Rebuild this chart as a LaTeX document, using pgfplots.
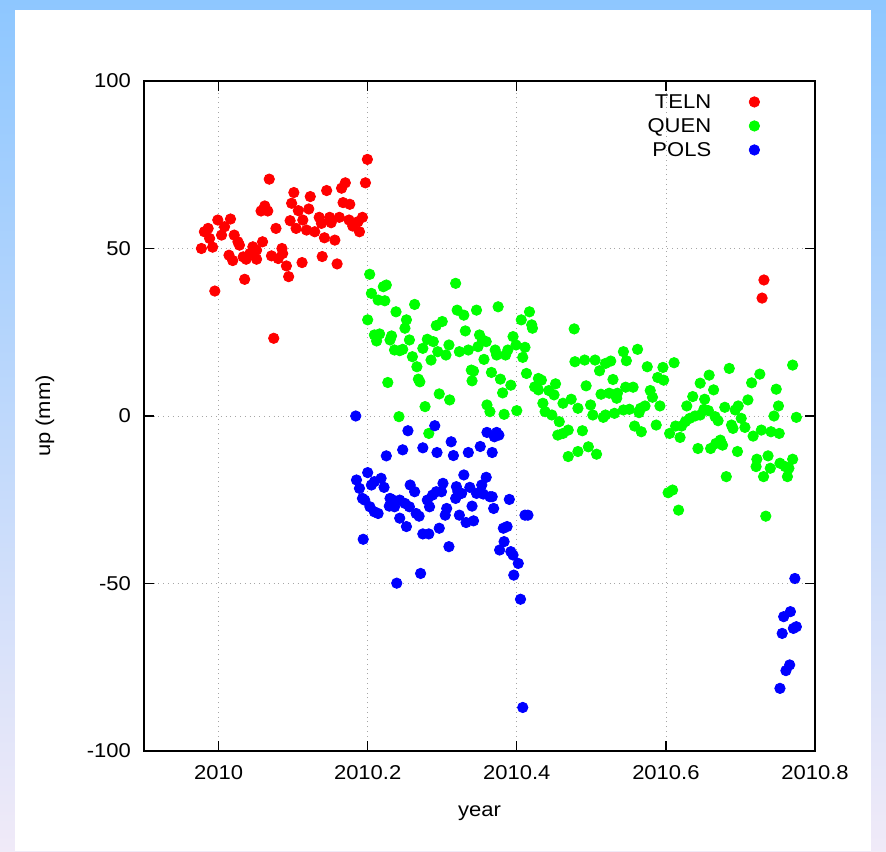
\documentclass[border=0pt]{standalone}
\usepackage{pgfplots}
\pgfplotsset{compat=1.18}
\usepackage{fontspec}
\setmainfont{Liberation Sans}[FakeStretch=1.1]
\definecolor{bgtop}{RGB}{142,199,255}
\definecolor{bgbot}{RGB}{240,234,248}
\begin{document}
\begin{tikzpicture}
\path[use as bounding box] (0,0) rectangle (443pt,425.5pt);
\shade[top color=bgtop, bottom color=bgbot] (0,0) rectangle (443pt,425.5pt);
\fill[white] (7.5pt,0) rectangle (435.5pt,420.5pt);
\begin{axis}[
  at={(72pt,50pt)}, anchor=south west,
  scale only axis, width=335.5pt, height=335pt,
  xmin=2009.9, xmax=2010.8, ymin=-100, ymax=100,
  xtick={2010,2010.2,2010.4,2010.6,2010.8},
  xticklabels={2010,2010.2,2010.4,2010.6,2010.8},
  ytick={-100,-50,0,50,100},
  yticklabels={-100,-50,0,50,100},
  tick align=inside, major tick length=5pt,
  tick style={black, line width=0.6pt},
  axis line style={black, line width=0.6pt},
  grid=major, major grid style={gray!70, dotted, line width=0.4pt},
  ticklabel style={font=\fontsize{10}{12}\selectfont},
  xticklabel style={yshift=-3.5pt},
  yticklabel style={xshift=-3pt},
  xlabel={year}, ylabel={up (mm)},
  label style={font=\fontsize{10}{12}\selectfont},
  xlabel style={at={(axis description cs:0.5,-0.093)}, anchor=center},
  ylabel style={at={(axis description cs:-0.1475,0.5)}, anchor=center},
  legend plot pos=right, legend cell align=right,
  legend image code/.code={\draw[#1] plot coordinates {(2.6pt,0pt)};},
  legend style={at={(rel axis cs:0.918,0.985)}, anchor=north east,
    draw=none, fill=none, inner sep=0pt, row sep=1.5pt, column sep=18pt,
    font=\fontsize{10}{12}\selectfont,
    nodes={text height=7.5pt, text depth=1pt, inner sep=1pt}},
  every axis plot/.append style={only marks, mark=*, mark size=2.6pt},
]
\addplot[color=red, mark options={fill=red, draw=red}] table {
2010.1996 76.6
2010.197 69.6
2010.068 70.7
2010.170 69.6
2010.165 68.0
2010.145 67.3
2010.101 66.7
2010.123 65.5
2010.167 63.7
2010.176 63.2
2010.098 63.5
2010.062 62.7
2010.057 61.2
2010.066 61.2
2010.121 61.8
2010.107 61.3
2009.999 58.5
2010.016 58.8
2010.096 58.3
2010.113 58.5
2010.135 59.3
2010.149 59.3
2010.162 59.3
2010.175 58.5
2010.193 59.3
2010.187 58.0
2009.986 56.0
2009.981 55.0
2010.008 56.5
2010.004 54.0
2009.988 53.0
2010.021 54.0
2010.026 52.0
2010.028 51.0
2010.077 56.0
2010.104 56.0
2010.118 55.5
2010.129 55.0
2010.138 57.5
2010.151 57.7
2010.180 56.7
2010.189 55.0
2010.142 53.2
2010.156 52.5
2009.977 50.0
2009.992 50.4
2010.059 52.0
2010.046 50.5
2010.042 48.5
2010.051 49.5
2010.085 50.0
2010.086 48.5
2010.071 47.8
2010.080 47.0
2010.014 48.0
2010.019 46.4
2010.033 47.5
2010.037 46.8
2010.051 46.8
2010.091 44.8
2010.112 45.8
2010.139 47.6
2010.159 45.4
2010.094 41.6
2010.035 40.8
2009.995 37.3
2010.074 23.2
2010.7315 40.6
2010.729 35.2
};
\addlegendentry{TELN}
\addplot[color=green, mark options={fill=green, draw=green}] table {
2010.2027 42.3
2010.318 39.6
2010.205 36.6
2010.221 38.6
2010.225 39.1
2010.214 34.6
2010.223 34.4
2010.263 33.3
2010.375 32.6
2010.346 31.6
2010.320 31.6
2010.329 30.1
2010.238 31.1
2010.252 28.7
2010.200 28.7
2010.300 28.2
2010.292 27.0
2010.331 25.4
2010.250 26.2
2010.209 24.2
2010.216 24.5
2010.232 23.9
2010.212 22.4
2010.230 22.7
2010.256 22.7
2010.280 22.9
2010.288 22.2
2010.350 24.2
2010.354 22.7
2010.359 22.2
2010.395 23.7
2010.309 21.2
2010.348 20.7
2010.236 19.7
2010.243 19.5
2010.247 19.9
2010.274 20.2
2010.294 19.2
2010.305 18.2
2010.323 19.2
2010.335 19.7
2010.371 19.7
2010.373 18.2
2010.388 19.7
2010.385 18.2
2010.399 21.2
2010.411 20.5
2010.408 17.5
2010.406 28.7
2010.417 31.1
2010.421 26.2
2010.420 27.2
2010.477 26.0
2010.478 16.2
2010.260 17.7
2010.285 16.7
2010.356 16.9
2010.266 14.7
2010.339 13.7
2010.342 13.4
2010.366 13.0
2010.413 12.7
2010.268 11.0
2010.270 10.2
2010.227 10.0
2010.340 10.5
2010.378 11.0
2010.392 9.2
2010.381 6.9
2010.429 11.2
2010.433 10.7
2010.424 8.7
2010.429 7.8
2010.452 9.6
2010.443 7.6
2010.450 6.3
2010.296 6.6
2010.310 4.8
2010.277 2.8
2010.360 3.3
2010.364 1.3
2010.383 0.5
2010.400 1.6
2010.435 3.8
2010.438 1.3
2010.447 0.3
2010.462 3.8
2010.457 -1.7
2010.469 -4.2
2010.455 -5.7
2010.242 -0.2
2010.282 -5.2
2010.469 -12.1
2010.482 -10.6
2010.491 16.7
2010.505 16.7
2010.511 13.5
2010.519 15.7
2010.526 16.4
2010.543 19.2
2010.547 16.5
2010.562 19.9
2010.575 14.7
2010.596 14.5
2010.611 15.9
2010.589 11.5
2010.597 10.7
2010.493 9.0
2010.529 10.9
2010.513 6.5
2010.524 6.8
2010.535 6.8
2010.546 8.6
2010.556 8.6
2010.534 5.3
2010.579 7.6
2010.582 5.6
2010.592 3.0
2010.499 3.3
2010.502 0.3
2010.516 -0.4
2010.519 0.3
2010.531 0.8
2010.543 1.8
2010.551 2.0
2010.566 2.3
2010.572 3.0
2010.564 1.0
2010.558 -3.0
2010.567 -4.7
2010.587 -2.7
2010.605 -5.2
2010.619 -6.4
2010.613 -3.0
2010.621 -3.0
2010.626 -1.7
2010.632 -0.7
2010.639 0.0
2010.646 0.3
2010.628 3.0
2010.636 5.8
2010.646 9.8
2010.652 5.0
2010.658 12.2
2010.664 7.8
2010.651 2.0
2010.657 1.6
2010.666 -0.2
2010.670 -1.4
2010.643 -9.7
2010.660 -9.7
2010.667 -8.2
2010.673 -7.2
2010.676 -8.7
2010.679 2.6
2010.685 14.2
2010.688 -2.7
2010.690 -3.7
2010.696 -10.6
2010.681 -18.1
2010.693 1.8
2010.697 3.0
2010.701 -0.7
2010.706 -3.4
2010.710 4.8
2010.715 9.9
2010.726 12.5
2010.717 -6.0
2010.728 -4.2
2010.741 -4.7
2010.752 -5.2
2010.748 8.0
2010.751 3.0
2010.745 0.0
2010.770 15.2
2010.775 -0.4
2010.722 -12.9
2010.721 -15.1
2010.737 -11.9
2010.740 -15.6
2010.731 -18.1
2010.734 -29.9
2010.753 -14.1
2010.760 -15.1
2010.763 -18.1
2010.770 -12.9
2010.765 -15.6
2010.603 -22.9
2010.609 -22.1
2010.617 -28.1
2010.496 -9.2
2010.507 -11.4
2010.488 -4.4
2010.462 -5.2
2010.482 2.3
2010.473 5.0
};
\addlegendentry{QUEN}
\addplot[color=blue, mark options={fill=blue, draw=blue}] table {
2010.184 0.0
2010.254 -4.4
2010.290 -2.9
2010.360 -4.9
2010.373 -4.9
2010.376 -5.7
2010.370 -6.2
2010.247 -10.1
2010.274 -9.5
2010.293 -10.9
2010.312 -7.7
2010.315 -11.8
2010.335 -10.9
2010.351 -9.1
2010.367 -10.9
2010.225 -11.9
2010.200 -16.9
2010.185 -19.1
2010.189 -21.6
2010.193 -24.6
2010.205 -20.6
2010.209 -19.6
2010.218 -18.6
2010.222 -21.3
2010.203 -27.1
2010.209 -28.6
2010.214 -29.1
2010.196 -25.1
2010.230 -24.6
2010.234 -25.1
2010.229 -26.9
2010.236 -27.1
2010.243 -25.1
2010.250 -26.1
2010.256 -27.1
2010.257 -20.6
2010.263 -22.6
2010.265 -29.1
2010.269 -29.9
2010.243 -30.5
2010.252 -33.0
2010.280 -25.1
2010.287 -23.6
2010.292 -22.6
2010.299 -22.6
2010.301 -20.1
2010.283 -27.1
2010.274 -35.2
2010.282 -35.2
2010.296 -33.5
2010.306 -27.6
2010.304 -29.6
2010.309 -39.0
2010.319 -21.1
2010.321 -22.6
2010.318 -24.6
2010.329 -17.6
2010.326 -23.1
2010.337 -21.3
2010.346 -23.1
2010.353 -20.6
2010.359 -18.3
2010.355 -23.3
2010.364 -24.1
2010.367 -24.1
2010.340 -26.9
2010.323 -29.6
2010.332 -31.8
2010.342 -31.3
2010.369 -27.6
2010.390 -24.9
2010.382 -33.5
2010.387 -33.0
2010.383 -37.5
2010.377 -40.0
2010.392 -40.5
2010.395 -41.5
2010.402 -44.0
2010.396 -47.5
2010.411 -29.6
2010.415 -29.6
2010.405 -54.7
2010.408 -87.0
2010.194 -36.8
2010.271 -47.0
2010.239 -49.9
2010.773 -48.5
2010.767 -58.4
2010.758 -59.9
2010.771 -63.4
2010.775 -62.9
2010.756 -64.9
2010.766 -74.3
2010.761 -76.0
2010.753 -81.3
};
\addlegendentry{POLS}
\end{axis}
\end{tikzpicture}
\end{document}
